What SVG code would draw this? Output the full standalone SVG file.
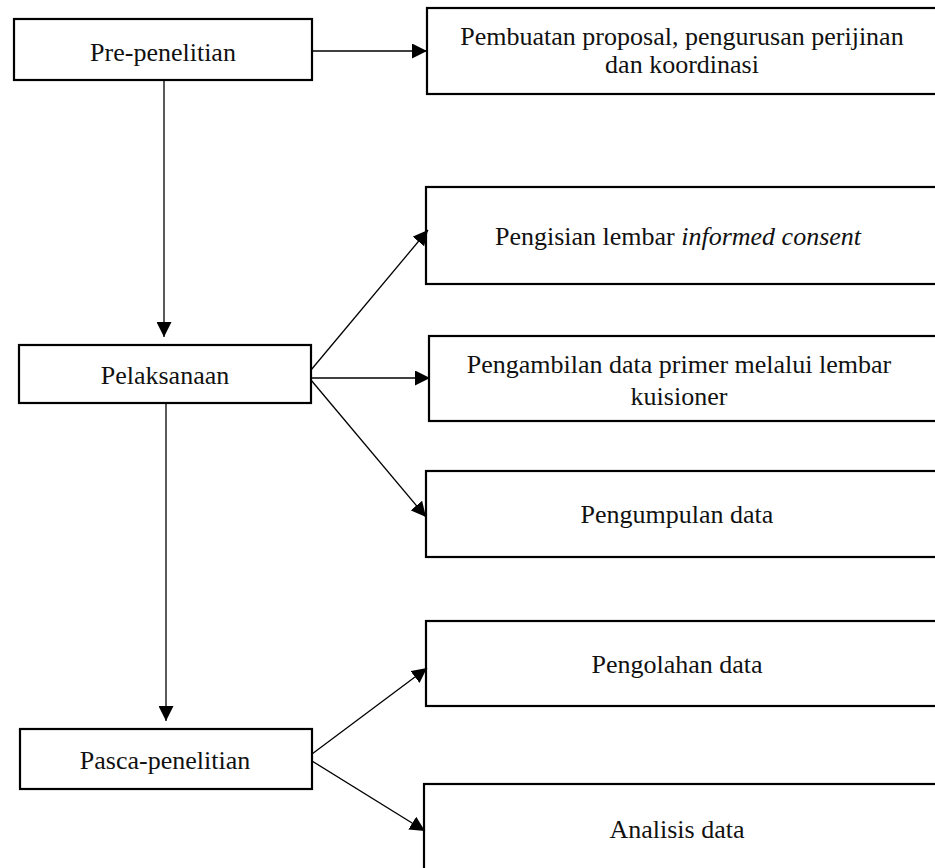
<svg xmlns="http://www.w3.org/2000/svg" width="935" height="868" viewBox="0 0 935 868">
<style>
.box{fill:#fff;stroke:#000;stroke-width:2.2}
.t{font-family:"Liberation Serif","Times New Roman",serif;font-size:26px;fill:#111;text-anchor:middle}
.c{stroke:#000;stroke-width:1.3;fill:none;marker-end:url(#ah)}
</style>
<defs>
<marker id="ah" markerUnits="userSpaceOnUse" markerWidth="15" markerHeight="15" refX="15" refY="7.5" orient="auto" viewBox="0 0 15 15">
<path d="M0,0 L15,7.5 L0,15 z" fill="#000"/>
</marker>
</defs>
<rect width="935" height="868" fill="#fff"/>
<g id="n-pre">
<rect class="box" x="14" y="19" width="298" height="61"/>
<text class="t" x="163" y="61">Pre-penelitian</text>
</g>
<g id="n-proposal">
<rect class="box" x="427" y="8" width="520" height="86"/>
<text class="t" x="682" y="45">Pembuatan proposal, pengurusan perijinan</text>
<text class="t" x="682" y="73">dan koordinasi</text>
</g>
<g id="n-pelaksanaan">
<rect class="box" x="19" y="345" width="292" height="58"/>
<text class="t" x="165" y="384">Pelaksanaan</text>
</g>
<g id="n-consent">
<rect class="box" x="426" y="187" width="520" height="97"/>
<text class="t" x="678" y="245">Pengisian lembar <tspan font-style="italic">informed consent</tspan></text>
</g>
<g id="n-kuisioner">
<rect class="box" x="429" y="336" width="520" height="85"/>
<text class="t" x="679" y="373">Pengambilan data primer melalui lembar</text>
<text class="t" x="679" y="405">kuisioner</text>
</g>
<g id="n-pengumpulan">
<rect class="box" x="426" y="471" width="520" height="86"/>
<text class="t" x="677" y="523">Pengumpulan data</text>
</g>
<g id="n-pasca">
<rect class="box" x="20" y="729" width="292" height="60"/>
<text class="t" x="165" y="769">Pasca-penelitian</text>
</g>
<g id="n-pengolahan">
<rect class="box" x="426" y="621" width="520" height="85"/>
<text class="t" x="677" y="673">Pengolahan data</text>
</g>
<g id="n-analisis">
<rect class="box" x="424" y="784" width="520" height="100"/>
<text class="t" x="677" y="838">Analisis data</text>
</g>
<g id="connectors">
<line class="c" x1="312" y1="51" x2="427" y2="51"/>
<line class="c" x1="164" y1="80" x2="164" y2="337"/>
<line class="c" x1="311" y1="370" x2="428" y2="230"/>
<line class="c" x1="311" y1="378" x2="430" y2="378"/>
<line class="c" x1="311" y1="380" x2="426" y2="517"/>
<line class="c" x1="166" y1="403" x2="166" y2="721"/>
<line class="c" x1="312" y1="754" x2="427" y2="668"/>
<line class="c" x1="312" y1="761" x2="425" y2="831"/>
</g>
</svg>
